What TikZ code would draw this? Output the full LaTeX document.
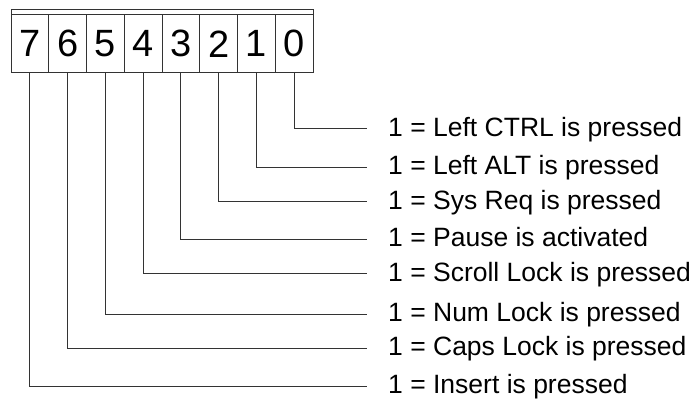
\documentclass[tikz,border=0pt]{standalone}
\usepackage{fontspec}
\setmainfont{Liberation Sans}
\begin{document}
\begin{tikzpicture}[x=1pt,y=-1pt,
  ln/.style={draw=black!80,line width=1pt},
  bitcell/.style={ln,rectangle,minimum width=37.75pt,minimum height=57.7pt,
    inner sep=0pt,font=\fontsize{38}{44}\selectfont},
  desc/.style={anchor=west,inner sep=0pt,text height=20pt,text depth=5.5pt,
    font=\fontsize{26.5}{32}\selectfont},
  leader/.style={ln,shorten >=21pt}]
\useasboundingbox (0,0) rectangle (697,401);
% register header strip
\draw[ln] (11,9.3) rectangle (313,15);
% bit cells 7..0
\foreach \b [count=\i from 0] in {7,6,5,4,3,2,1,0} {
  \node[bitcell] (b\b) at ({29.875+37.75*\i},43.85) {\b};
}
% bit descriptions
\node[desc] (l0) at (388,129)   {1 = Left CTRL is pressed};
\node[desc] (l1) at (388,167.7) {1 = Left ALT is pressed};
\node[desc] (l2) at (388,202)   {1 = Sys Req is pressed};
\node[desc] (l3) at (388,239.3) {1 = Pause is activated};
\node[desc] (l4) at (388,274)   {1 = Scroll Lock is pressed};
\node[desc] (l5) at (388,314)   {1 = Num Lock is pressed};
\node[desc] (l6) at (388,348.7) {1 = Caps Lock is pressed};
\node[desc] (l7) at (388,386)   {1 = Insert is pressed};
% leaders from each bit to its description
\foreach \b in {0,...,7} {
  \draw[leader] (b\b.south) |- (l\b.west);
}
\end{tikzpicture}
\end{document}
